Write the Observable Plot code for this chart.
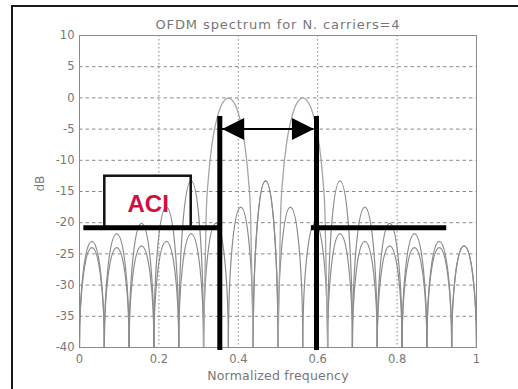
<!DOCTYPE html>
<html>
<head>
<meta charset="utf-8">
<script src="https://cdn.jsdelivr.net/npm/d3@7"></script>
<script src="https://cdn.jsdelivr.net/npm/@observablehq/plot@0.6"></script>
<style>
  html, body { margin: 0; padding: 0; background: #fff; }
  #wrap { position: relative; width: 518px; height: 389px; overflow: hidden; }
  #outer { position: absolute; left: 11px; top: 5px; width: 600px; height: 500px;
           border-top: 2px solid #1a1a1a; border-left: 2px solid #1a1a1a; pointer-events: none; }
</style>
</head>
<body>
<div id="wrap"><div id="chart"></div><div id="outer"></div></div>
<script>
// ---- data ----
const chartTitle = "OFDM spectrum for N. carriers=4";
const xLabel = "Normalized frequency";
const yLabel = "dB";
const xTicks = [0, 0.2, 0.4, 0.6, 0.8, 1];
const yTicks = [10, 5, 0, -5, -10, -15, -20, -25, -30, -35, -40];

// spectral nulls (normalized frequency)
const nullFreqs = [0, 0.0625, 0.125, 0.1875, 0.25, 0.3125, 0.375, 0.4375, 0.5,
                   0.5625, 0.625, 0.6875, 0.75, 0.8125, 0.875, 0.9375, 1];
// side-lobe peak levels (dB) between consecutive nulls, null = inside main lobe
const sidelobePeaksA = [-23.0, -21.8, -20.1, -17.5, -13.3, null, null, -13.3,
                        -17.5, -20.1, -21.8, -23.0, -23.7, -24.0, -24.0, -23.7];
const sidelobePeaksB = [-24.0, -24.0, -23.7, -23.0, -21.8, -20.1, -17.5, -13.3,
                        null, null, -13.3, -17.5, -20.1, -21.8, -23.0, -23.7];
// main lobes
const mainLobeFreqsA = [0.3125, 0.319, 0.325, 0.335, 0.344, 0.355, 0.365, 0.375,
                        0.385, 0.395, 0.406, 0.415, 0.425, 0.431, 0.4375];
const mainLobeFreqsB = [0.5, 0.5065, 0.5125, 0.5225, 0.5315, 0.5425, 0.5525, 0.5625,
                        0.5725, 0.5825, 0.5935, 0.6025, 0.6125, 0.6185, 0.625];
const mainLobeDb = [-40, -18.8, -12.6, -6.9, -3.9, -1.5, -0.4, 0,
                    -0.4, -1.5, -3.9, -6.9, -12.6, -18.8, -40];

// annotations
const bandEdges = [0.3534, 0.597];
const bandEdgeTop = -3;
const bandEdgeBottom = -40.5;
const arrowLevel = -5;
const arrowTips = [0.3594, 0.5905];
const aciLevel = -20.8;
const aciSegments = [[0.011, 0.3534], [0.584, 0.925]];
const aciBox = {x1: 0.0637, x2: 0.2814, y1: -20.8, y2: -12.55};
const aciText = {f: 0.173, db: -17.1, label: "ACI"};

// ---- build tables ----
const sidelobes = [];
function addSidelobes(name, peaks) {
  peaks.forEach((p, k) => {
    if (p == null) return;
    const id = name + k;
    sidelobes.push({f: nullFreqs[k], db: -40, id},
                   {f: (nullFreqs[k] + nullFreqs[k + 1]) / 2, db: p, id},
                   {f: nullFreqs[k + 1], db: -40, id});
  });
}
addSidelobes("A", sidelobePeaksA);
addSidelobes("B", sidelobePeaksB);
const mainlobes = [
  ...mainLobeFreqsA.map((f, i) => ({f, db: mainLobeDb[i], id: "mA"})),
  ...mainLobeFreqsB.map((f, i) => ({f, db: mainLobeDb[i], id: "mB"}))
];

// arch-shaped curve: steep sides at the nulls, rounded tops at the peaks
function archCurve(context) {
  let pts = [];
  return {
    areaStart() {}, areaEnd() {},
    lineStart() { pts = []; },
    lineEnd() {
      if (!pts.length) return;
      context.moveTo(pts[0][0], pts[0][1]);
      const k = 0.55;
      for (let i = 1; i < pts.length; i++) {
        const [x0, y0] = pts[i - 1], [x1, y1] = pts[i];
        if (y1 < y0) context.bezierCurveTo(x0, y0 + k * (y1 - y0), x1 - k * (x1 - x0), y1, x1, y1);
        else context.bezierCurveTo(x0 + k * (x1 - x0), y0, x1, y1 - k * (y1 - y0), x1, y1);
      }
    },
    point(x, y) { pts.push([+x, +y]); }
  };
}

const arrowLeft = {draw(ctx) { ctx.moveTo(0, 0); ctx.lineTo(22, -11); ctx.lineTo(22, 11); ctx.closePath(); }};
const arrowRight = {draw(ctx) { ctx.moveTo(0, 0); ctx.lineTo(-22, -11); ctx.lineTo(-22, 11); ctx.closePath(); }};

const gray = "#777";

const chart = Plot.plot({
  width: 518,
  height: 389,
  marginLeft: 79,
  marginRight: 42,
  marginTop: 35,
  marginBottom: 42,
  style: {fontFamily: "'DejaVu Sans', sans-serif", fontSize: "11.5px", background: "transparent"},
  x: {domain: [0, 1]},
  y: {domain: [-40, 10]},
  marks: [
    Plot.gridX(xTicks, {stroke: "#8a8a8a", strokeOpacity: 1, strokeWidth: 1, strokeDasharray: "1.5,2.5"}),
    Plot.gridY(yTicks, {stroke: "#8a8a8a", strokeOpacity: 1, strokeWidth: 1, strokeDasharray: "3.5,3"}),
    Plot.rect([aciBox], {x1: "x1", x2: "x2", y1: "y1", y2: "y2", fill: "white"}),
    Plot.line(sidelobes, {x: "f", y: "db", z: "id", stroke: "#8c8c8c", strokeWidth: 1.2, curve: archCurve, clip: true}),
    Plot.line(mainlobes, {x: "f", y: "db", z: "id", stroke: "#a5a5a5", strokeWidth: 1.3, curve: "monotone-x", clip: true}),
    Plot.frame({stroke: "#8a8a8a", strokeWidth: 1}),
    Plot.axisX(xTicks, {tickSize: 0, tickPadding: 7, color: gray, label: null, tickFormat: d => String(d)}),
    Plot.axisY(yTicks, {tickSize: 0, tickPadding: 5, color: gray, label: null, tickFormat: d => String(d)}),
    Plot.text([chartTitle], {frameAnchor: "top", dy: -16, fill: gray, fontSize: 13}),
    Plot.text([xLabel], {frameAnchor: "bottom", dy: 32, fill: gray, fontSize: 12.5}),
    Plot.text([yLabel], {frameAnchor: "left", dx: -39, rotate: -90, fill: gray, fontSize: 12}),
    // annotations
    Plot.rect([aciBox], {x1: "x1", x2: "x2", y1: "y1", y2: "y2", fill: "none", stroke: "#111", strokeWidth: 2.5}),
    Plot.ruleY(aciSegments, {y: () => aciLevel, x1: d => d[0], x2: d => d[1], stroke: "#000", strokeWidth: 5}),
    Plot.ruleX(bandEdges, {y1: bandEdgeTop, y2: bandEdgeBottom, stroke: "#000", strokeWidth: 5}),
    Plot.ruleY([arrowLevel], {x1: arrowTips[0], x2: arrowTips[1], stroke: "#000", strokeWidth: 2}),
    Plot.dot([{f: arrowTips[0], db: arrowLevel}], {x: "f", y: "db", symbol: arrowLeft, fill: "#000", stroke: "none"}),
    Plot.dot([{f: arrowTips[1], db: arrowLevel}], {x: "f", y: "db", symbol: arrowRight, fill: "#000", stroke: "none"}),
    Plot.text([aciText], {x: "f", y: "db", text: "label", fill: "#cf1040", fontSize: 24, fontWeight: "bold",
                          fontFamily: "'Liberation Sans', Arial, sans-serif"})
  ]
});
// widen the title and axis label slightly, as in the reference
d3.select(chart).selectAll("text").each(function() {
  const t = this.textContent;
  if (t === chartTitle) this.setAttribute("letter-spacing", "0.9");
  if (t === xLabel) this.setAttribute("letter-spacing", "0.2");
});
document.getElementById("chart").appendChild(chart);
</script>
</body>
</html>
